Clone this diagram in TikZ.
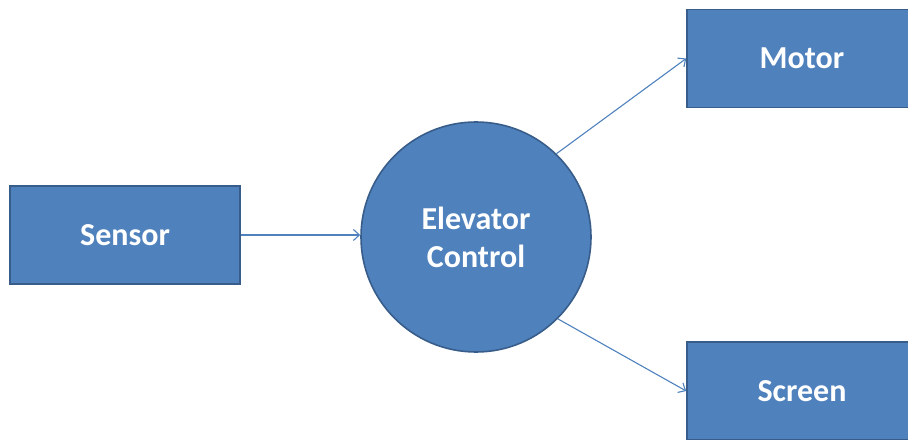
\documentclass[tikz,border=0pt]{standalone}
\usepackage{fontspec}
\setmainfont{Carlito}
\usetikzlibrary{arrows.meta}
\definecolor{boxfill}{HTML}{4F81BD}
\definecolor{boxedge}{HTML}{385D8A}
\tikzset{
  block/.style={rectangle, fill=boxfill, draw=boxedge, line width=1.6bp,
    minimum width=230bp, minimum height=98bp, inner sep=0pt,
    text=white, font=\fontsize{32bp}{38bp}\selectfont\bfseries},
  hub/.style={circle, fill=boxfill, draw=boxedge, line width=1.6bp,
    minimum size=230bp, inner sep=0pt, align=center,
    text=white, font=\fontsize{32bp}{38bp}\selectfont\bfseries},
  flow/.style={draw=boxfill, line width=1.1bp,
    -{Straight Barb[length=6bp,width=11bp,line width=1.1bp]}}
}
\begin{document}
\begin{tikzpicture}[x=1bp,y=-1bp]
  \clip (0,0) rectangle (908,440);
  \node[block] (sensor) at (125,235) {Sensor};
  \node[hub]   (ctrl)   at (476,237) {Elevator\\Control};
  \node[block] (motor)  at (802,58.5) {Motor};
  \node[block] (screen) at (802,391) {Screen};
  \draw[flow] (sensor.east) -- (sensor.east -| ctrl.west);
  \draw[flow] (ctrl.46) -- (motor.west);
  \draw[flow] (ctrl.-45) -- (screen.west);
\end{tikzpicture}
\end{document}
